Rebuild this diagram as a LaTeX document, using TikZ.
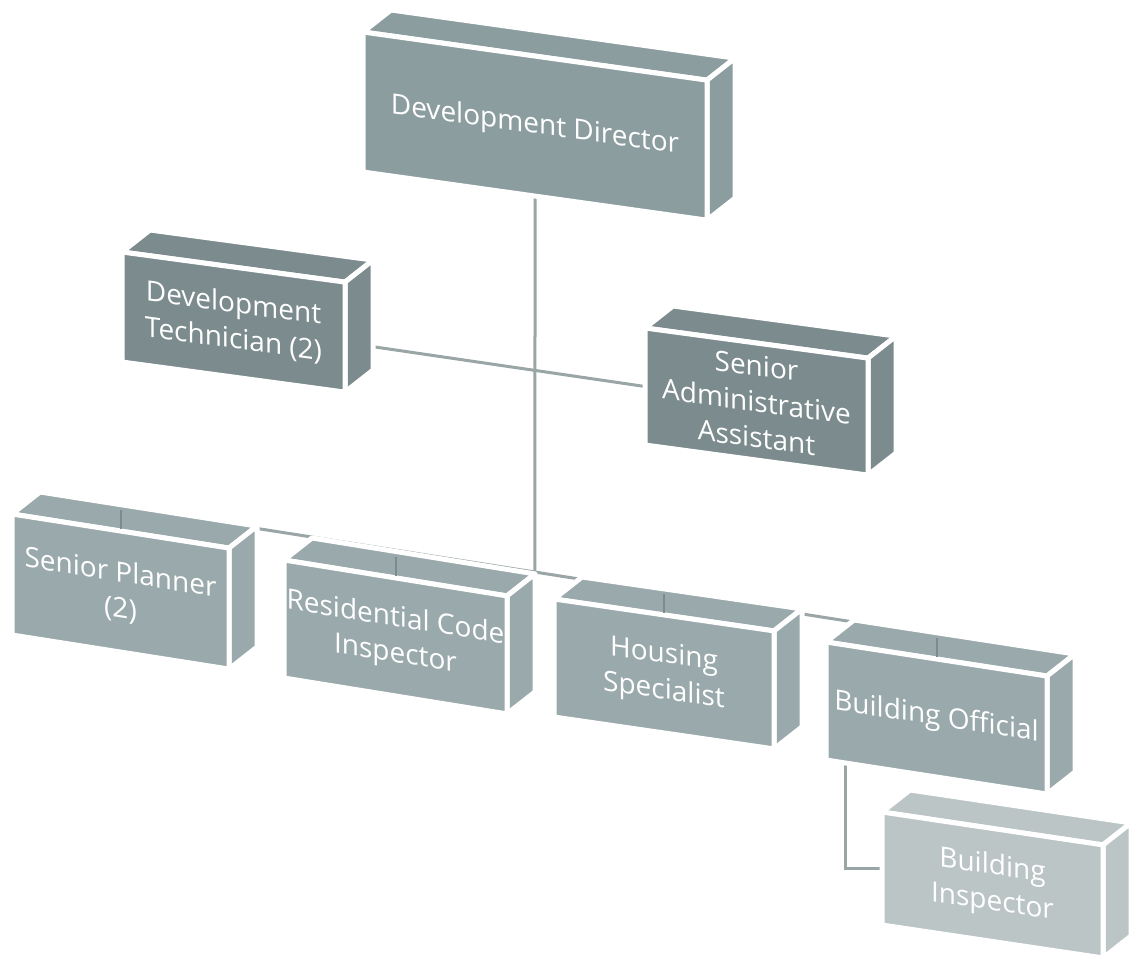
\documentclass[tikz,border=0pt]{standalone}
\usepackage{fontspec}
\setmainfont{Open Sans}
\usepackage{xcolor}
\usetikzlibrary{calc, backgrounds}

\definecolor{topgray}{HTML}{8C9DA0}
\definecolor{midgray}{HTML}{7C8B8D}
\definecolor{lowgray}{HTML}{9AA9AB}
\definecolor{palegray}{HTML}{BBC5C6}
\definecolor{linkgray}{HTML}{9AA5A6}

\newcommand{\orgbox}[8]{%
  \coordinate (#1-a) at (#2,-#3);
  \coordinate (#1-b) at ($(#1-a)+(#4,-#4*#6)$);
  \coordinate (#1-c) at ($(#1-b)+(0,-#5)$);
  \coordinate (#1-d) at ($(#1-a)+(0,-#5)$);
  \coordinate (#1-top) at ($(#1-a)!0.5!(#1-b)$);
  \coordinate (#1-up) at ($(#1-top)+(0,24)$);
  \filldraw[face, fill=#7] (#1-a) -- (#1-b) -- ++(28,22) -- ($(#1-a)+(28,22)$) -- cycle;
  \filldraw[face, fill=#7] (#1-b) -- ++(28,22) -- ($(#1-c)+(28,22)$) -- (#1-c) -- cycle;
  \filldraw[face, fill=#7] (#1-a) -- (#1-b) -- (#1-c) -- (#1-d) -- cycle;
  \node[boxtext, yslant=-#6] (#1) at ($(#1-a)!0.5!(#1-c)$) {#8};
}

\begin{document}
\begin{tikzpicture}[x=1pt, y=1pt,
    face/.style={draw=white, line width=5pt, line join=round},
    boxtext/.style={text=white, align=center, inner sep=0pt, font=\fontsize{28}{36}\selectfont},
    link/.style={draw=linkgray, line width=3pt}]
  \useasboundingbox (0,0) rectangle (1130,-955);
  \clip (0,0) rectangle (1130,-955);
  \orgbox{dd}{363}{32}{344}{140}{0.14}{topgray}{Development Director}
  \orgbox{dt}{122}{252}{223}{110}{0.135}{midgray}{Development\\Technician (2)}
  \orgbox{saa}{645}{328}{223}{117}{0.135}{midgray}{Senior\\Administrative\\Assistant}
  \orgbox{sp}{12}{514}{217}{121}{0.157}{lowgray}{Senior Planner\\(2)}
  \orgbox{rci}{284}{560}{223}{118}{0.161}{lowgray}{Residential Code\\Inspector}
  \orgbox{hs}{554}{599}{220}{118}{0.145}{lowgray}{Housing\\Specialist}
  \orgbox{bo}{826}{642}{221}{118}{0.154}{lowgray}{Building Official}
  \orgbox{bi}{882}{812}{221}{113}{0.149}{palegray}{Building\\Inspector}
  \coordinate (dd-bot) at ($(dd-d)!0.5!(dd-c)$);
  \coordinate (dd-low) at ($(dd-bot)+(0,-500)$);
  \coordinate (hub) at (intersection of dd-bot--dd-low and sp-up--bo-up);
  \coordinate (dt-east) at ($(dt-b)!0.55!(dt-c)$);
  \coordinate (saa-west) at ($(saa-a)!0.5!(saa-d)$);
  \coordinate (bo-foot) at ($(bo-d)!0.09!(bo-c)$);
  \coordinate (bi-west) at ($(bi-a)!0.5!(bi-d)$);
  \begin{scope}[on background layer]
    \draw[link] (dd-bot) -- (hub);
    \draw[link] (dt-east) -- (saa-west);
    \draw[link] (sp-up) -- (bo-up);
    \draw[link] (bo-foot) |- (bi-west);
  \end{scope}
  \foreach \n in {sp, rci, hs, bo}
    \draw[link, draw=midgray, line width=2pt, shorten <=3pt, shorten >=2pt] (\n-up) -- (\n-top);
\end{tikzpicture}
\end{document}
